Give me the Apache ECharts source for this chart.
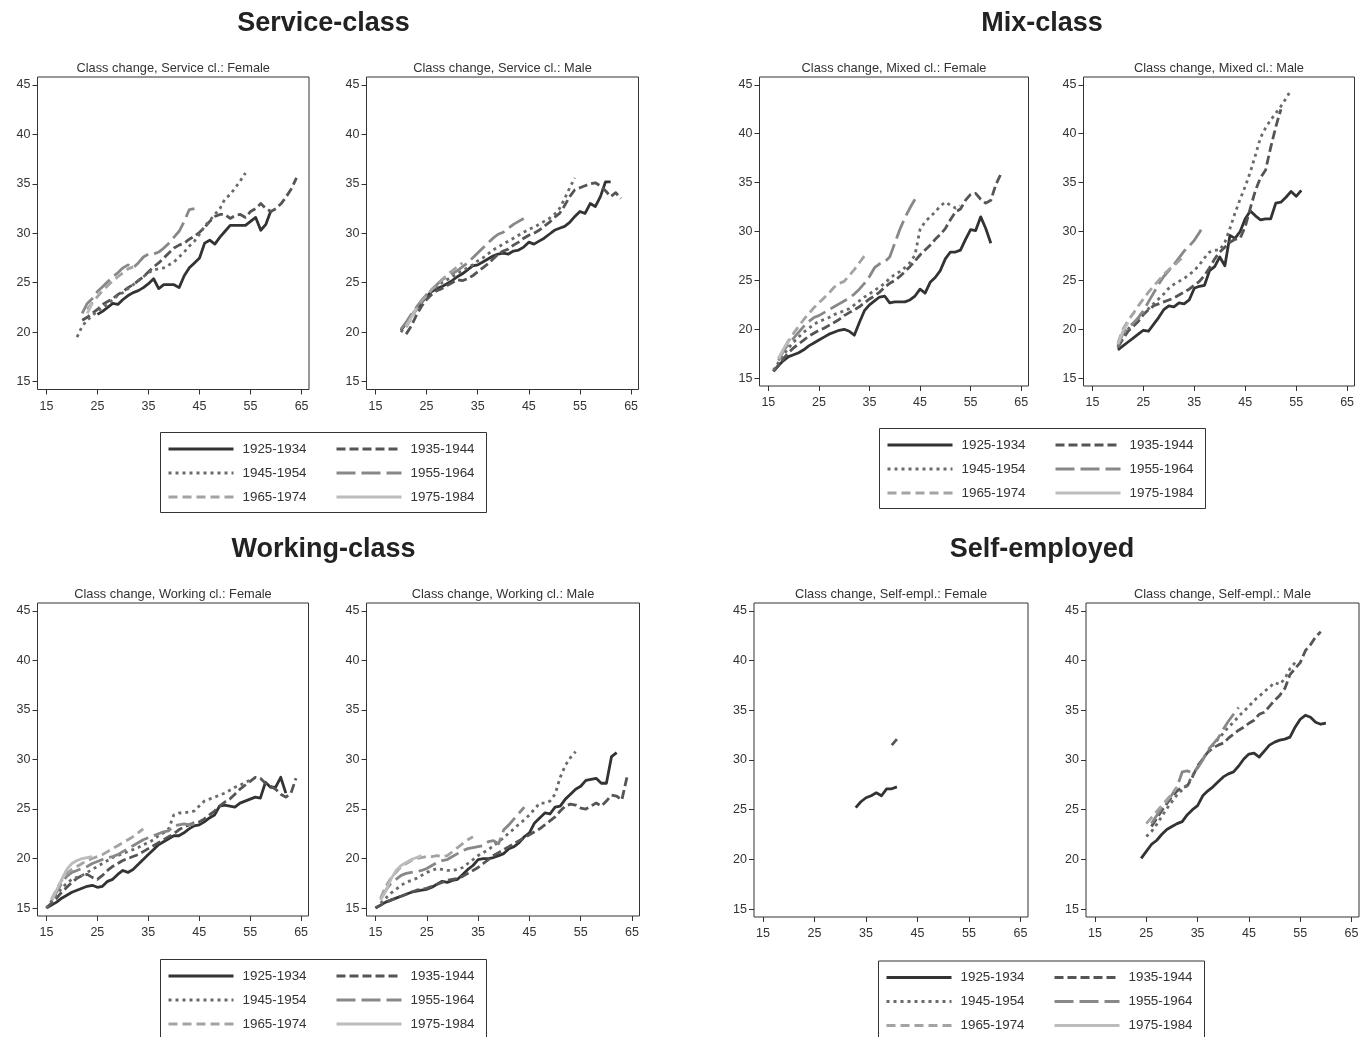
<!DOCTYPE html>
<html><head><meta charset="utf-8">
<script src="https://cdn.jsdelivr.net/npm/echarts@6/dist/echarts.min.js"></script>
<style>html,body{margin:0;padding:0;background:#fff}#c{width:1367px;height:1037px}</style>
</head><body><div id="c"></div>
<script>
// ---------------- DATA ----------------
const COHORTS = ['1925-1934','1935-1944','1945-1954','1955-1964','1965-1974','1975-1984'];
const X_TICKS = [15,25,35,45,55,65];
const Y_TICKS = [15,20,25,30,35,40,45];
const GROUP_TITLES = ['Service-class','Mix-class','Working-class','Self-employed'];
const PANEL_TITLES = [
  'Class change, Service cl.: Female','Class change, Service cl.: Male',
  'Class change, Mixed cl.: Female','Class change, Mixed cl.: Male',
  'Class change, Working cl.: Female','Class change, Working cl.: Male',
  'Class change, Self-empl.: Female','Class change, Self-empl.: Male'
];

// Service class, female (first age of each cohort, then values by age)
const svcF_start = [25,22,21,22,23,23];
const svcF_1925 = [21.8,22.1,22.5,22.9,22.8,23.3,23.7,24.0,24.2,24.5,24.9,25.4,24.4,24.8,24.8,24.8,24.5,25.7,26.5,27.0,27.5,29.0,29.3,28.9,29.6,30.2,30.8,30.8,30.8,30.8,31.2,31.6,30.3,30.9,32.3];
const svcF_1935 = [21.2,21.5,21.9,22.3,22.8,23.1,23.4,23.8,24.1,24.5,24.8,25.2,25.6,26.1,26.6,27.0,27.5,28.0,28.5,28.8,29.0,29.4,29.7,30.1,30.6,31.2,31.7,31.9,31.9,31.5,31.8,31.9,31.6,32.2,32.5,33.0,32.5,32.2,32.5,33.0,33.7,34.5,35.6];
const svcF_1945 = [19.5,20.6,21.2,21.7,22.1,22.5,22.8,23.3,23.7,24.0,24.4,24.8,25.2,25.6,26.0,26.3,26.4,26.5,26.8,27.1,27.6,28.1,28.7,29.2,29.9,30.7,31.3,31.9,32.5,33.5,33.9,34.6,35.3,36.1];
const svcF_1955 = [21.9,22.9,23.4,24.1,24.6,25.1,25.6,26.0,26.5,26.8,26.5,27.0,27.6,27.9,27.9,28.1,28.5,29.0,29.6,30.2,31.2,32.4,32.5];
const svcF_1965 = [22.3,23.0,23.6,24.2,24.7,25.2,25.6,26.0,26.4,26.6];
const svcF_1975 = [21.9,22.9];

// Service class, male
const svcM_start = [20,21,20,20,21,21];
const svcM_1925 = [20.2,20.9,21.6,22.3,23.0,23.6,24.1,24.4,24.6,24.9,25.2,25.6,25.9,26.3,26.7,26.8,27.1,27.4,27.7,27.9,28.0,27.9,28.2,28.3,28.6,29.1,28.9,29.2,29.5,29.9,30.3,30.5,30.7,31.1,31.7,32.2,32.0,33.0,32.7,33.7,35.2,35.2];
const svcM_1935 = [19.8,20.6,21.7,22.6,23.3,23.8,24.2,24.4,24.7,25.0,25.3,25.2,25.4,25.7,26.1,26.5,26.9,27.4,27.9,28.2,28.4,28.8,29.1,29.5,29.8,30.0,30.3,30.7,31.1,31.6,32.0,32.8,33.7,34.4,34.6,34.8,35.0,35.1,34.8,34.3,33.7,34.1,33.5];
const svcM_1945 = [20.0,20.8,21.6,22.4,23.1,23.7,24.2,24.6,25.0,25.3,25.6,25.9,26.2,26.5,26.8,27.2,27.5,27.9,28.3,28.6,28.9,29.2,29.5,29.8,30.1,30.4,30.6,30.9,31.2,31.5,31.9,32.5,33.5,34.6,35.6];
const svcM_1955 = [20.3,21.0,21.8,22.5,23.2,23.8,24.3,24.8,25.3,25.6,25.9,26.2,26.6,27.0,27.5,28.0,28.5,29.0,29.5,29.9,30.1,30.5,30.9,31.2,31.5];
const svcM_1965 = [20.5,21.4,22.3,23.1,23.7,24.3,24.8,25.3,25.8,26.2,26.6,27.0];
const svcM_1975 = [20.6,21.5,22.4];

// Mixed class, female
const mixF_start = [16,16,16,17,17,17];
const mixF_1925 = [15.7,16.3,16.8,17.2,17.4,17.6,17.9,18.3,18.6,18.9,19.2,19.5,19.7,19.9,20.0,19.8,19.4,20.7,21.9,22.5,22.9,23.3,23.4,22.7,22.8,22.8,22.8,23.0,23.4,24.1,23.7,24.8,25.3,26.0,27.2,27.9,27.9,28.1,29.2,30.2,30.1,31.5,30.3,28.8];
const mixF_1935 = [15.7,16.3,17.0,17.6,18.1,18.5,18.9,19.3,19.6,19.9,20.1,20.4,20.7,21.0,21.4,21.7,22.0,22.3,22.7,23.1,23.4,23.8,24.3,24.7,25.0,25.4,25.9,26.4,27.0,27.6,28.1,28.6,29.2,29.7,30.3,31.2,32.0,32.3,33.2,33.8,33.9,33.3,32.9,33.2,34.8,35.9];
const mixF_1945 = [15.8,16.6,17.4,18.1,18.7,19.2,19.7,20.1,20.5,20.8,21.0,21.2,21.5,21.7,21.9,22.1,22.5,22.9,23.3,23.6,24.0,24.3,24.7,25.2,25.6,25.9,26.3,26.8,27.6,30.2,31.0,31.5,32.0,32.6,33.0,32.7,32.4,32.6];
const mixF_1955 = [16.8,17.8,18.5,19.1,19.7,20.3,20.8,21.2,21.4,21.7,22.0,22.3,22.6,22.9,23.2,23.6,24.1,24.7,25.4,26.3,26.7,26.9,27.4,28.8,30.2,31.4,32.4,33.3];
const mixF_1965 = [17.0,17.9,18.8,19.6,20.3,21.0,21.6,22.2,22.7,23.2,23.7,24.3,24.7,24.9,25.5,26.1,26.8,27.5];
const mixF_1975 = [17.0,18.0,18.9];

// Mixed class, male
const mixM_start = [20,20,20,20,20,20];
const mixM_1925 = [17.9,18.3,18.7,19.1,19.5,19.9,19.8,20.5,21.2,22.0,22.4,22.3,22.7,22.6,23.0,24.2,24.4,24.5,26.0,26.4,27.4,26.5,29.6,29.3,30.0,31.3,32.1,31.6,31.2,31.3,31.3,32.9,33.0,33.5,34.1,33.6,34.2];
const mixM_1935 = [18.2,19.0,19.8,20.3,20.8,21.5,22.0,22.4,22.6,22.8,23.0,23.2,23.5,23.8,24.1,24.5,24.9,25.5,26.3,27.2,27.9,28.4,28.9,29.2,29.3,30.5,32.4,34.2,35.5,36.3,38.6,40.7,42.5];
const mixM_1945 = [18.1,19.3,20.0,20.6,21.1,21.6,22.1,22.6,23.1,23.6,24.2,24.6,24.9,25.2,25.6,26.0,26.6,27.3,27.9,28.1,28.1,28.9,30.3,31.9,33.3,34.6,36.1,37.8,39.6,40.6,41.4,42.1,42.8,43.6,44.5];
const mixM_1955 = [18.3,19.6,20.2,20.6,21.2,21.9,22.8,23.7,24.6,25.4,26.0,26.6,27.3,28.0,28.5,29.1,29.9,30.7];
const mixM_1965 = [18.6,20.0,20.9,21.6,22.4,23.1,23.8,24.4,25.0,25.6,26.1,26.5,27.0,27.5];
const mixM_1975 = [18.5,19.8,20.7];

// Working class, female
const wrkF_start = [15,15,15,16,16,16];
const wrkF_1925 = [15.0,15.3,15.6,16.0,16.3,16.6,16.8,17.0,17.2,17.3,17.1,17.2,17.7,17.9,18.4,18.8,18.6,18.9,19.4,19.9,20.4,20.9,21.4,21.7,22.0,22.3,22.3,22.6,23.0,23.3,23.4,23.7,24.1,24.4,25.3,25.4,25.3,25.2,25.6,25.8,26.0,26.2,26.1,27.7,27.2,27.2,28.2,26.6];
const wrkF_1935 = [15.0,15.5,16.0,16.6,17.1,17.6,18.0,18.3,18.4,18.1,17.9,18.3,18.8,19.2,19.5,19.8,20.0,20.2,20.4,20.7,21.0,21.3,21.6,21.9,22.2,22.5,22.9,23.2,23.4,23.6,23.7,24.0,24.4,24.8,25.3,25.7,26.0,26.5,27.0,27.4,27.8,28.2,28.1,27.6,27.3,27.0,26.5,26.2,26.6,28.1];
const wrkF_1945 = [15.0,15.7,16.3,17.0,17.5,17.9,18.1,18.3,18.6,18.9,19.2,19.5,19.8,20.1,20.3,20.5,20.7,20.9,21.1,21.4,21.6,21.9,22.3,22.6,23.0,24.4,24.6,24.6,24.7,24.8,25.3,25.8,26.0,26.2,26.4,26.6,26.9,27.2,27.4,27.7,27.9];
const wrkF_1955 = [15.8,16.6,17.5,18.2,18.6,18.8,19.0,19.2,19.5,19.7,19.9,20.1,20.2,20.4,20.7,21.0,21.3,21.6,21.9,22.1,22.3,22.5,22.7,22.8,23.3,23.4,23.5,23.4,23.5];
const wrkF_1965 = [15.9,16.9,17.8,18.5,18.9,19.2,19.5,19.8,20.0,20.2,20.4,20.7,21.0,21.3,21.6,21.9,22.2,22.6,23.0];
const wrkF_1975 = [15.8,16.8,17.9,18.9,19.5,19.8,20.0,20.1,20.2];

// Working class, male
const wrkM_start = [15,15,16,16,16,16];
const wrkM_1925 = [15.0,15.3,15.6,15.8,16.0,16.2,16.4,16.6,16.7,16.8,16.9,17.1,17.4,17.7,17.6,17.8,17.9,18.4,18.9,19.3,19.9,20.0,20.0,20.1,20.3,20.5,21.0,21.2,21.6,22.2,22.6,23.6,24.1,24.6,24.5,25.2,25.3,26.0,26.5,27.0,27.3,27.9,28.0,28.1,27.6,27.6,30.3,30.7];
const wrkM_1935 = [15.0,15.3,15.6,15.8,16.0,16.2,16.4,16.6,16.8,16.9,17.0,17.2,17.4,17.6,17.8,17.9,18.0,18.2,18.5,18.8,19.1,19.5,19.9,20.3,20.6,20.9,21.2,21.5,21.8,22.1,22.4,22.7,23.0,23.4,23.8,24.2,24.8,25.3,25.5,25.4,25.1,25.0,25.3,25.6,25.3,25.8,26.4,26.3,25.9,28.2];
const wrkM_1945 = [15.5,16.0,16.5,16.9,17.3,17.6,17.8,18.0,18.3,18.6,18.8,19.0,18.9,18.8,18.8,18.9,19.1,19.5,19.9,20.3,20.6,20.9,21.3,21.7,22.1,22.6,23.0,23.5,23.9,24.4,25.0,25.6,25.6,25.8,26.5,28.2,29.4,30.2,30.8];
const wrkM_1955 = [15.9,16.8,17.5,17.9,18.3,18.5,18.6,18.7,18.8,19.0,19.3,19.6,19.8,19.9,20.2,20.5,20.8,21.0,21.1,21.2,21.3,21.7,21.8,21.5,22.9,23.4,24.0,24.6,25.2];
const wrkM_1965 = [16.0,17.2,18.0,18.6,19.2,19.5,19.8,20.0,20.1,20.2,20.2,20.3,20.2,20.3,20.7,21.1,21.5,21.9,22.2];
const wrkM_1975 = [15.8,16.7,17.9,18.8,19.3,19.6,19.9,20.1,20.3];

// Self-employed, female
const selfF_start = [33,40];
const selfF_1925 = [25.2,25.8,26.2,26.4,26.7,26.4,27.1,27.1,27.3];
const selfF_1935 = [31.5,32.1];

// Self-employed, male
const selfM_start = [24,26,25,26,25];
const selfM_1925 = [20.1,20.8,21.5,21.9,22.5,23.0,23.3,23.6,23.8,24.5,25.0,25.4,26.4,26.9,27.3,27.8,28.3,28.6,28.8,29.4,30.1,30.6,30.7,30.3,30.9,31.5,31.8,32.0,32.1,32.3,33.3,34.1,34.5,34.3,33.8,33.6,33.7];
const selfM_1935 = [23.3,24.1,24.9,25.6,26.3,26.9,27.2,27.4,28.3,29.4,30.1,30.8,31.2,31.5,31.7,32.2,32.6,33.0,33.3,33.7,34.0,34.6,34.8,35.4,36.0,36.5,37.2,38.6,39.2,39.8,41.0,41.6,42.4,42.9];
const selfM_1945 = [22.3,22.8,23.5,24.3,25.1,25.8,26.5,27.0,27.5,28.4,29.3,30.1,30.8,31.5,32.1,32.7,33.3,33.8,34.4,34.9,35.4,36.0,36.4,36.9,37.3,37.8,37.6,38.2,39.2,39.8];
const selfM_1955 = [23.6,24.4,25.2,25.8,26.5,27.3,28.8,28.9,28.7,29.2,30.0,31.0,31.6,32.2,33.1,33.9,34.6,35.3];
const selfM_1965 = [23.6,24.2,24.8,25.4,26.0,26.6,27.3];

const PANEL_SERIES = [
  [svcF_start, [svcF_1925, svcF_1935, svcF_1945, svcF_1955, svcF_1965, svcF_1975]],
  [svcM_start, [svcM_1925, svcM_1935, svcM_1945, svcM_1955, svcM_1965, svcM_1975]],
  [mixF_start, [mixF_1925, mixF_1935, mixF_1945, mixF_1955, mixF_1965, mixF_1975]],
  [mixM_start, [mixM_1925, mixM_1935, mixM_1945, mixM_1955, mixM_1965, mixM_1975]],
  [wrkF_start, [wrkF_1925, wrkF_1935, wrkF_1945, wrkF_1955, wrkF_1965, wrkF_1975]],
  [wrkM_start, [wrkM_1925, wrkM_1935, wrkM_1945, wrkM_1955, wrkM_1965, wrkM_1975]],
  [selfF_start, [selfF_1925, selfF_1935]],
  [selfM_start, [selfM_1925, selfM_1935, selfM_1945, selfM_1955, selfM_1965]]
];

// ---------------- LAYOUT / STYLE ----------------
const FONT = '"Liberation Sans", Arial, Helvetica, sans-serif';
const X_RANGE = [13.25, 66.45];
const Y_RANGE = [14.2, 45.8];
// plot boxes [left, top, right, bottom]
const BOXES = [
  [37.5, 77, 309, 389.5],
  [366.5, 77, 638.5, 389.5],
  [759.5, 77, 1028.5, 386],
  [1083.5, 77, 1354.5, 386],
  [37.5, 603, 308.5, 916],
  [366.5, 603, 639.5, 916],
  [754, 603, 1028, 917],
  [1086, 603, 1359, 917]
];
const GROUP_CENTERS = [[323.5, 10.5],[1042, 10.5],[323.5, 536.5],[1042, 536.5]];
const LINE_STYLES = [
  {color:'#333333', width:2.8, type:'solid'},
  {color:'#555555', width:2.8, type:[9,4]},
  {color:'#6a6a6a', width:2.8, type:[3,4]},
  {color:'#888888', width:2.8, type:[19,6]},
  {color:'#a3a3a3', width:2.8, type:[9,5]},
  {color:'#bcbcbc', width:2.8, type:'solid'}
];
// legend layout: [boxX, boxY, col1X, col2X, firstRowCenterY]
const LEGENDS = [
  [160.5, 432.5, 167, 335, 449],
  [879.5, 428.5, 886, 1054, 445],
  [160.5, 959.5, 167, 335, 976],
  [878.5, 961, 885, 1053, 977.5]
];

const titles = [];
GROUP_TITLES.forEach((t, i) => {
  titles.push({text: t, left: GROUP_CENTERS[i][0], top: GROUP_CENTERS[i][1], textAlign: 'center', padding: 0,
    textStyle: {fontSize: 27, fontWeight: 'bold', color: '#222', fontFamily: FONT}});
});
PANEL_TITLES.forEach((t, i) => {
  const b = BOXES[i];
  titles.push({text: t, left: (b[0] + b[2]) / 2, top: b[1] - 15.5, textAlign: 'center', padding: 0,
    textStyle: {fontSize: 12.8, fontWeight: 'normal', color: '#333', fontFamily: FONT}});
});

const grids = [], xAxes = [], yAxes = [], series = [];
BOXES.forEach((b, i) => {
  grids.push({left: b[0], top: b[1], width: b[2] - b[0], height: b[3] - b[1], containLabel: false,
    show: true, borderColor: '#333', borderWidth: 1, backgroundColor: 'transparent'});
  xAxes.push({gridIndex: i, type: 'value', min: X_RANGE[0], max: X_RANGE[1],
    axisLine: {show: false, onZero: false}, splitLine: {show: false},
    axisTick: {show: true, length: 5, customValues: X_TICKS, lineStyle: {color: '#333', width: 1}},
    axisLabel: {customValues: X_TICKS, fontSize: 12.5, color: '#333', margin: 10.5, fontFamily: FONT}});
  yAxes.push({gridIndex: i, type: 'value', min: Y_RANGE[0], max: Y_RANGE[1],
    axisLine: {show: false, onZero: false}, splitLine: {show: false},
    axisTick: {show: true, length: 5, customValues: Y_TICKS, lineStyle: {color: '#333', width: 1}},
    axisLabel: {customValues: Y_TICKS, fontSize: 12.5, color: '#333', margin: 7, fontFamily: FONT}});
  const [starts, arrs] = PANEL_SERIES[i];
  arrs.forEach((vals, k) => {
    series.push({
      type: 'line', name: COHORTS[k], xAxisIndex: i, yAxisIndex: i,
      data: vals.map((v, j) => [starts[k] + j, v]),
      symbol: 'none', showSymbol: false, z: 2 + k,
      lineStyle: {color: LINE_STYLES[k].color, width: LINE_STYLES[k].width, type: LINE_STYLES[k].type, cap: 'butt', join: 'round'},
      itemStyle: {color: LINE_STYLES[k].color},
      emphasis: {disabled: true}, silent: true, animation: false
    });
  });
});

const legends = [], graphics = [];
LEGENDS.forEach(L => {
  const [bx, by, c1, c2, ry] = L;
  graphics.push({type: 'rect', shape: {x: bx, y: by, width: 326, height: 80},
    style: {fill: 'none', stroke: '#333', lineWidth: 1}, silent: true});
  [[c1, [COHORTS[0], COHORTS[2], COHORTS[4]]], [c2, [COHORTS[1], COHORTS[3], COHORTS[5]]]].forEach(([cx, names]) => {
    legends.push({
      orient: 'vertical', left: cx, top: ry - 7, padding: 0, itemGap: 10,
      itemWidth: 65, itemHeight: 14, data: names, selectedMode: false,
      itemStyle: {opacity: 0},
      lineStyle: {width: 3},
      textStyle: {fontSize: 13.4, color: '#333', fontFamily: FONT, padding: [0, 0, 0, 4], lineHeight: 14}
    });
  });
});

const chart = echarts.init(document.getElementById('c'), null, {renderer: 'canvas'});
chart.setOption({
  backgroundColor: '#fff',
  animation: false,
  title: titles,
  grid: grids,
  xAxis: xAxes,
  yAxis: yAxes,
  legend: legends,
  graphic: graphics,
  series: series
});
</script>
</body></html>
